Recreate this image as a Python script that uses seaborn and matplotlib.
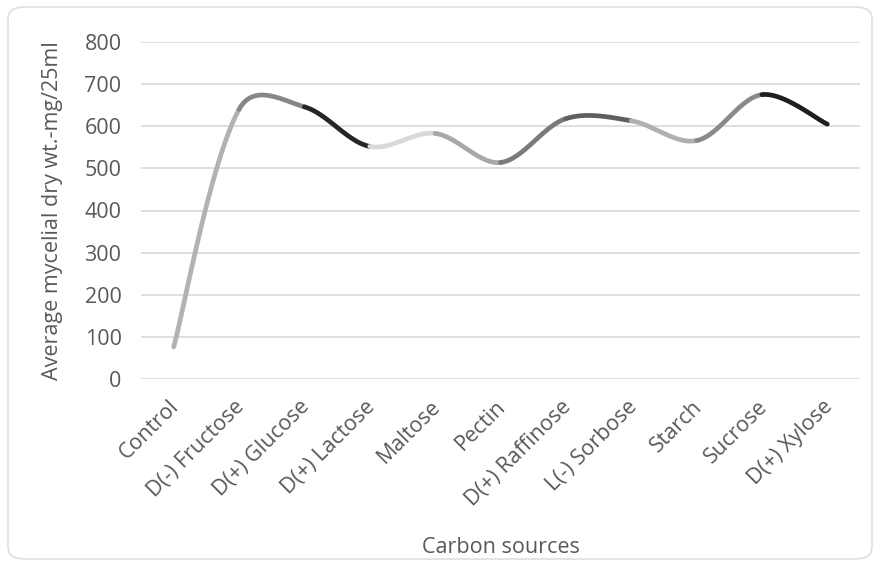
import numpy as np
import pandas as pd
import matplotlib
matplotlib.use("Agg")
import matplotlib.pyplot as plt
import matplotlib.transforms as mtransforms
from matplotlib.patches import FancyBboxPatch
import seaborn as sns

categories = ["Control", "D(-) Fructose", "D(+) Glucose", "D(+) Lactose", "Maltose",
              "Pectin", "D(+) Raffinose", "L(-) Sorbose", "Starch", "Sucrose", "D(+) Xylose"]
values = [76, 640, 646, 552, 583, 514, 618, 613, 566, 675, 605]
segment_colors = ["#b2b2b2", "#878787", "#262626", "#d9d9d9", "#a8a8a8",
                  "#7a7a7a", "#5f5f5f", "#b0b0b0", "#8a8a8a", "#1f1f1f"]
y_ticks = [0, 100, 200, 300, 400, 500, 600, 700, 800]
x_label = "Carbon sources"
y_label = "Average mycelial dry wt.-mg/25ml"

sns.set_theme(style="white")
plt.rcParams["font.family"] = ["Open Sans", "DejaVu Sans"]
text_color = "#595959"

# Smoothed line through the data (Bezier with chord-weighted tangents, computed in pixel space)
n = len(values)
xs = np.arange(n, dtype=float)
ys = np.array(values, dtype=float)
px_per_x = 719 / 11
px_per_y = 337 / 800
P = np.column_stack([xs * px_per_x, ys * px_per_y])
rows = []
t = np.linspace(0, 1, 80)


def ctrl_out(i):
    prev = P[max(i - 1, 0)]
    nxt = P[min(i + 1, n - 1)]
    d_prev = np.hypot(*(P[i] - prev))
    d_next = np.hypot(*(nxt - P[i]))
    if d_prev == 0 or d_next == 0:
        w_out, w_in = 0.5, 0.5
    else:
        s = np.sqrt(d_prev) + np.sqrt(d_next)
        w_out, w_in = np.sqrt(d_next) / s, np.sqrt(d_prev) / s
    T = nxt - prev
    return P[i] + T * w_out / 3, P[i] - T * w_in / 3


for i in range(n - 1):
    c1, _ = ctrl_out(i)
    _, c2 = ctrl_out(i + 1)
    p0, p1 = P[i], P[i + 1]
    b = ((1 - t) ** 3)[:, None] * p0 + (3 * (1 - t) ** 2 * t)[:, None] * c1 \
        + (3 * (1 - t) * t ** 2)[:, None] * c2 + (t ** 3)[:, None] * p1
    for a, c in b:
        rows.append({"x": a / px_per_x, "y": c / px_per_y, "seg": i})
df = pd.DataFrame(rows)

fig = plt.figure(figsize=(8.8, 5.69), dpi=100)
ax = fig.add_axes([141 / 880, 1 - 379 / 569, (860 - 141) / 880, (379 - 42) / 569])

border = FancyBboxPatch((8 / 880, 10 / 569), 864 / 880, 552 / 569,
                        boxstyle="round,pad=0,rounding_size=0.02",
                        transform=fig.transFigure, facecolor="white",
                        edgecolor="#d9d9d9", linewidth=1.0, zorder=-10)
fig.patches.append(border)

ax.set_facecolor("none")
for yv in y_ticks:
    ax.axhline(yv, color="#d9d9d9", linewidth=1.2, zorder=0)

sns.lineplot(data=df, x="x", y="y", hue="seg", palette=segment_colors,
             sort=False, estimator=None, legend=False, linewidth=3.4, ax=ax,
             solid_capstyle="round")

ax.set_xlim(-0.5, n - 0.5)
ax.set_ylim(0, 800)
ax.tick_params(axis="y", length=0, pad=14)
ax.tick_params(axis="x", length=0, pad=8)
ax.set_yticks(y_ticks)
ax.set_yticklabels([str(v) for v in y_ticks], fontsize=15.5, color=text_color)
ax.set_xticks(xs)
ax.set_xticklabels(categories, rotation=45, ha="right", rotation_mode="anchor",
                   fontsize=15.5, color=text_color)
shift = mtransforms.ScaledTranslation(-5 / 100, -6 / 100, fig.dpi_scale_trans)
for lab in ax.get_xticklabels():
    lab.set_transform(lab.get_transform() + shift)
for s in ax.spines.values():
    s.set_visible(False)

ax.set_xlabel(x_label, fontsize=15.5, color=text_color)
ax.set_ylabel(y_label, fontsize=15.5, color=text_color)
ax.xaxis.set_label_coords(0.5, (379 - 537) / 337, transform=ax.transAxes)
ax.yaxis.set_label_coords((63 - 141) / 719, 0.5, transform=ax.transAxes)

fig.savefig("out.png", dpi=100)
